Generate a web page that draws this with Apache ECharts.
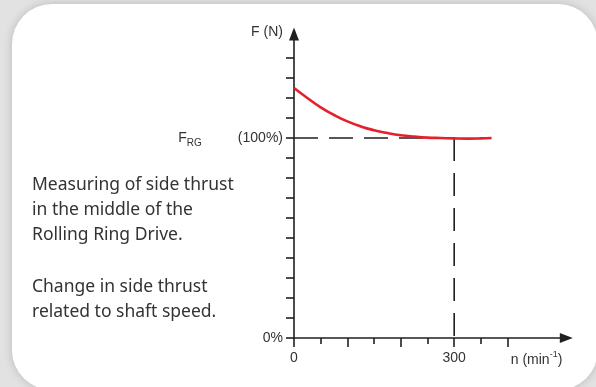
<!DOCTYPE html>
<html>
<head>
<meta charset="utf-8">
<script src="https://cdn.jsdelivr.net/npm/echarts@6/dist/echarts.min.js"></script>
<style>
  html, body { margin: 0; padding: 0; width: 596px; height: 387px; overflow: hidden; background: #e2e2e3; }
  #card { position: absolute; left: 12px; top: 4px; width: 586px; height: 386px; background: #fff; border-radius: 40px; box-shadow: 0 0 10px rgba(0,0,0,0.18); }
  #chart { position: absolute; left: 0; top: 0; width: 596px; height: 387px; }
</style>
</head>
<body>
<div id="card"></div>
<div id="chart"></div>
<script>
// Data
const speeds = [0, 25, 50, 75, 100, 125, 150, 175, 200, 225, 250, 275, 300, 325, 350, 370];
const thrust = [125, 120, 115.3, 111.5, 108.3, 105.8, 103.9, 102.5, 101.4, 100.7, 100.2, 100, 99.8, 99.7, 99.8, 100];
const refSpeed = 300;
const refForce = 100;
const yTicks = [0, 10, 20, 30, 40, 50, 60, 70, 80, 90, 100, 110, 120, 130, 140];
const yLabels = [0, 100];
const xMajorTicks = [0, 100, 200, 300, 400];
const xMinorTicks = [50, 150, 250, 350];
const xLabels = [0, 300];
const noteLines1 = ['Measuring of side thrust', 'in the middle of the', 'Rolling Ring Drive.'];
const noteLines2 = ['Change in side thrust', 'related to shaft speed.'];

const ink = '#231f20';
const labelFont = 'Liberation Sans, Arial, sans-serif';
const noteFont = '17.5px "Noto Sans", sans-serif';

const chart = echarts.init(document.getElementById('chart'), null, { renderer: 'canvas' });

const xCommon = {
  type: 'value', min: 0, max: 510, position: 'bottom',
  splitLine: { show: false }
};

const texts = [];
noteLines1.forEach((t, i) => texts.push({ type: 'text', left: 32, top: 176 + i * 25, style: { text: t, font: noteFont, fill: '#333' } }));
noteLines2.forEach((t, i) => texts.push({ type: 'text', left: 32, top: 278 + i * 25, style: { text: t, font: noteFont, fill: '#333' } }));

chart.setOption({
  backgroundColor: 'transparent',
  animation: false,
  grid: { left: 294, right: 29.7, top: 34, bottom: 49, containLabel: false },
  xAxis: [
    Object.assign({}, xCommon, {
      axisLine: { show: true, lineStyle: { color: ink, width: 1.6 }, symbol: ['none', 'triangle'], symbolSize: [10, 13] },
      axisTick: { show: true, length: 9, customValues: xMajorTicks, lineStyle: { color: ink, width: 1.6 } },
      axisLabel: { show: true, customValues: xLabels, margin: 13, color: '#333', fontFamily: labelFont, fontSize: 14 },
      name: '{a|n (min}{s|-1}{a|)}',
      nameLocation: 'end',
      nameGap: -4,
      nameTextStyle: {
        align: 'right', verticalAlign: 'top', padding: [12, 0, 0, 0],
        rich: {
          a: { fontSize: 14, fontFamily: labelFont, color: '#333', lineHeight: 20 },
          s: { fontSize: 9, fontFamily: labelFont, color: '#333', lineHeight: 12, verticalAlign: 'top' }
        }
      }
    }),
    Object.assign({}, xCommon, {
      axisLine: { show: false },
      axisTick: { show: true, length: 6, customValues: xMinorTicks, lineStyle: { color: ink, width: 1.6 } },
      axisLabel: { show: false }
    })
  ],
  yAxis: {
    type: 'value', min: 0, max: 152,
    splitLine: { show: false },
    axisLine: { show: true, lineStyle: { color: ink, width: 1.6 }, symbol: ['none', 'triangle'], symbolSize: [10, 13] },
    axisTick: { show: true, length: 8, customValues: yTicks, lineStyle: { color: ink, width: 1.6 } },
    axisLabel: {
      show: true, customValues: yLabels, margin: 11, color: '#333', fontFamily: labelFont, fontSize: 14,
      formatter: v => v === 100 ? '{f|F}{s|RG}{g|}(100%)' : v + '%',
      rich: {
        f: { fontSize: 14, fontFamily: labelFont, color: '#333', lineHeight: 20 },
        s: { fontSize: 10, fontFamily: labelFont, color: '#333', lineHeight: 11, verticalAlign: 'bottom' },
        g: { width: 36 }
      }
    },
    name: 'F (N)',
    nameLocation: 'end',
    nameGap: 2,
    nameTextStyle: { align: 'right', verticalAlign: 'middle', padding: [0, 11, 0, 0], fontSize: 14, fontFamily: labelFont, color: '#333' }
  },
  graphic: texts,
  series: [
    {
      type: 'line', silent: true, symbol: 'none', z: 1,
      data: [[0, refForce], [refSpeed, refForce]],
      lineStyle: { color: ink, width: 1.6, type: [24, 11] }
    },
    {
      type: 'line', silent: true, symbol: 'none', z: 1,
      data: [[refSpeed, refForce], [refSpeed, 0]],
      lineStyle: { color: ink, width: 1.6, type: [23, 12] }
    },
    {
      type: 'line', silent: true, symbol: 'none', smooth: true, z: 3,
      data: speeds.map((s, i) => [s, thrust[i]]),
      lineStyle: { color: '#e4202a', width: 2.6 }
    }
  ]
});
</script>
</body>
</html>
